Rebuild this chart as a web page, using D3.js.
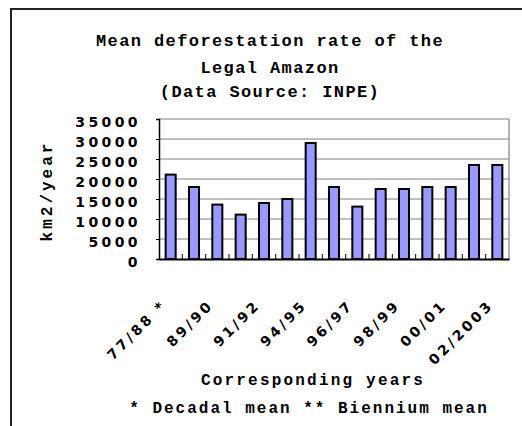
<!DOCTYPE html>
<html><head><meta charset="utf-8">
<script src="https://cdn.jsdelivr.net/npm/d3@7"></script>
<style>body{margin:0;background:#fff}svg{display:block}</style>
</head><body>
<svg id="c" width="522" height="426"></svg>
<script>
const categories = ["77/88 *","88/89","89/90","90/91","91/92","92/94 **","94/95","95/96","96/97","97/98","98/99","99/00","00/01","01/02","02/2003"];
const values = [21100,18000,13600,11100,14000,15000,29000,18000,13100,17500,17500,18000,18000,23500,23500];
const yTicks = [0,5000,10000,15000,20000,25000,30000,35000];
const titleLines = ["Mean deforestation rate of the","Legal Amazon","(Data Source: INPE)"];
const xTitle = "Corresponding years";
const note = "* Decadal mean ** Biennium mean";
const yTitle = "km2/year";

const svg = d3.select("#c");
const L=159, R=509, T=119, B=259;
const x = d3.scaleBand().domain(categories).range([L,R]).paddingInner(0.57).paddingOuter(0.285);
const xb = d3.scaleBand().domain(categories).range([L,R]);
const y = d3.scaleLinear().domain([0,35000]).range([B,T]);

// frame
svg.append("path").attr("d",`M11,426V9H522`).attr("fill","none").attr("stroke","#222").attr("stroke-width",2);

// gridlines
svg.append("g").selectAll("line").data(yTicks.filter(d=>d>0)).join("line")
  .attr("x1",L).attr("x2",R).attr("y1",d=>y(d)).attr("y2",d=>y(d))
  .attr("stroke","#808080").attr("stroke-width",1);
// right border
svg.append("line").attr("x1",R).attr("x2",R).attr("y1",T).attr("y2",B).attr("stroke","#999").attr("stroke-width",1.5);

// bars
svg.append("g").selectAll("rect").data(values).join("rect")
  .attr("x",(d,i)=>x(categories[i])).attr("width",x.bandwidth())
  .attr("y",d=>y(d)).attr("height",d=>B-y(d))
  .attr("fill","#9999ff").attr("stroke","#000").attr("stroke-width",2);

// y axis
const ya = d3.axisLeft(y).tickValues(yTicks).tickSize(3).tickFormat(d=>d);
const yg = svg.append("g").attr("transform",`translate(${L},0)`).call(ya);
yg.select(".domain").attr("stroke","#000").attr("stroke-width",1.5);
yg.selectAll(".tick line").attr("stroke","#000");
yg.selectAll(".tick text").attr("x",-18).attr("dy","0.55em")
  .attr("font-family","DejaVu Sans").attr("font-weight","bold").attr("font-size",14)
  .attr("letter-spacing","3.4px").attr("fill","#000");

// x axis
const xa = d3.axisBottom(xb).tickSize(0).tickFormat("");
const xg = svg.append("g").attr("transform",`translate(0,${B})`).call(xa);
xg.select(".domain").attr("stroke","#000").attr("stroke-width",2);
// boundary ticks inward
svg.append("g").selectAll("line").data(categories.slice(1)).join("line")
  .attr("x1",d=>xb(d)).attr("x2",d=>xb(d)).attr("y1",B-5).attr("y2",B)
  .attr("stroke","#000").attr("stroke-width",1);

// x labels (every other)
svg.append("g").selectAll("text").data(categories.filter((d,i)=>i%2===0)).join("text")
  .attr("transform",d=>`translate(${xb(d)+xb.bandwidth()/2-3},${B+47}) rotate(-45)`)
  .attr("text-anchor","end")
  .attr("font-family","DejaVu Sans").attr("font-weight","bold").attr("font-size",14)
  .attr("letter-spacing","3px").text(d=>d);

// titles
const mono = "Liberation Mono";
const tb = [46,73,97];
svg.append("g").selectAll("text").data(titleLines).join("text")
  .attr("x",270).attr("y",(d,i)=>tb[i]).attr("text-anchor","middle")
  .attr("font-family",mono).attr("font-weight","bold").attr("font-size",17)
  .attr("letter-spacing","1.4px").text(d=>d);

svg.append("text").attr("x",313).attr("y",385).attr("text-anchor","middle")
  .attr("font-family",mono).attr("font-weight","bold").attr("font-size",16)
  .attr("letter-spacing","2.2px").text(xTitle);
svg.append("text").attr("x",309).attr("y",413).attr("text-anchor","middle")
  .attr("font-family",mono).attr("font-weight","bold").attr("font-size",16)
  .attr("letter-spacing","2px").text(note);

svg.append("text").attr("transform",`translate(52,191) rotate(-90)`).attr("text-anchor","middle")
  .attr("font-family",mono).attr("font-weight","bold").attr("font-size",16)
  .attr("letter-spacing","3px").text(yTitle);
</script>
</body></html>
